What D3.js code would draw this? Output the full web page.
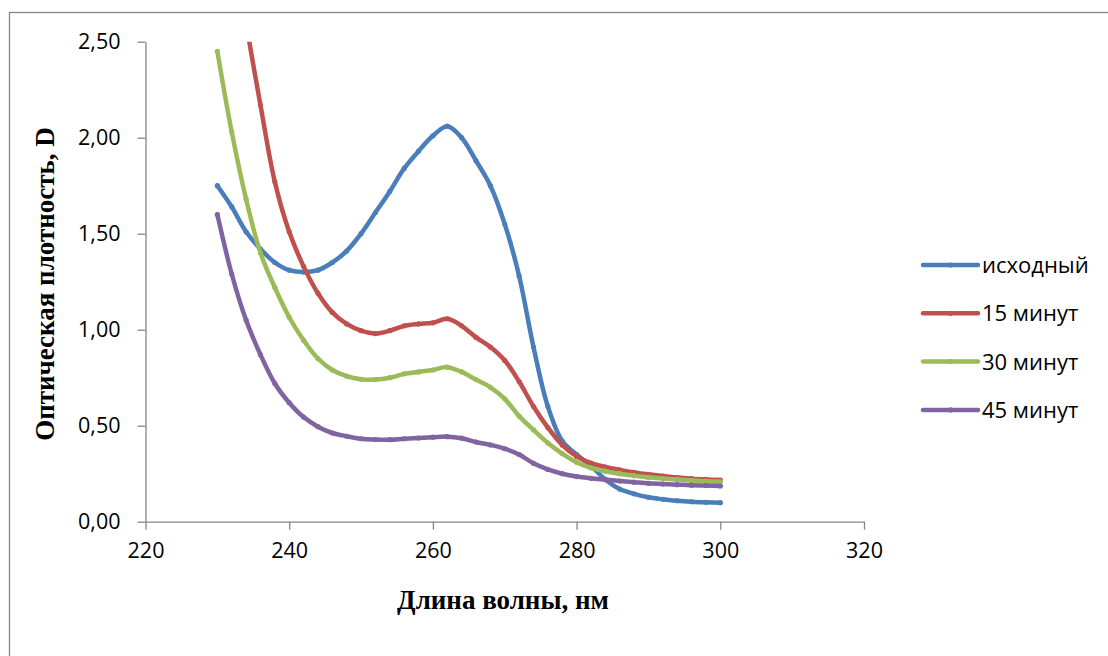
<!DOCTYPE html>
<html>
<head>
<meta charset="utf-8">
<script src="https://cdn.jsdelivr.net/npm/d3@7"></script>
<style>
  body { margin: 0; background: #fff; }
  .axis path, .axis line { stroke: #868686; stroke-width: 1.3; }
  .axis text { font-family: "Open Sans", sans-serif; font-size: 21.5px; fill: #000; }
</style>
</head>
<body>
<script>

// wavelength, nm
var wavelengths = [230, 232, 234, 236, 238, 240, 242, 244, 246, 248, 250, 252, 254, 256, 258, 260, 262, 264,
    266, 268, 270, 272, 274, 276, 278, 280, 282, 284, 286, 288, 290, 292, 294, 296, 298, 300];

var ishodny = [1.75, 1.64, 1.51, 1.42, 1.35, 1.31, 1.30, 1.31, 1.35, 1.41, 1.50, 1.61, 1.72, 1.84, 1.93, 2.01, 2.06, 2.00,
    1.88, 1.75, 1.55, 1.28, 0.91, 0.60, 0.42, 0.35, 0.29, 0.22, 0.17, 0.145, 0.127, 0.117, 0.109, 0.104, 0.101, 0.099];

var min15 = [3.70, 3.10, 2.60, 2.17, 1.77, 1.51, 1.33, 1.19, 1.09, 1.03, 0.995, 0.98, 0.995, 1.02, 1.03, 1.036, 1.057, 1.02,
    0.96, 0.91, 0.84, 0.73, 0.60, 0.49, 0.40, 0.34, 0.305, 0.285, 0.27, 0.257, 0.247, 0.238, 0.23, 0.224, 0.22, 0.217];

var min30 = [2.45, 2.03, 1.68, 1.40, 1.22, 1.065, 0.945, 0.85, 0.79, 0.758, 0.742, 0.74, 0.75, 0.77, 0.78, 0.79, 0.805, 0.78,
    0.74, 0.70, 0.64, 0.55, 0.478, 0.41, 0.355, 0.31, 0.28, 0.263, 0.25, 0.24, 0.231, 0.225, 0.22, 0.215, 0.211, 0.208];

var min45 = [1.60, 1.29, 1.05, 0.87, 0.72, 0.62, 0.545, 0.495, 0.462, 0.445, 0.432, 0.428, 0.427, 0.432, 0.436, 0.44, 0.443, 0.435,
    0.415, 0.40, 0.38, 0.35, 0.304, 0.272, 0.25, 0.235, 0.226, 0.219, 0.212, 0.206, 0.2, 0.196, 0.193, 0.19, 0.188, 0.186];

var seriesNames = ["исходный", "15 минут", "30 минут", "45 минут"];
var seriesColors = ["#4a7ebb", "#c0504d", "#9bbb59", "#8064a2"];
var seriesValues = [ishodny, min15, min30, min45];

var xTicks = [220, 240, 260, 280, 300, 320];
var yTicks = [0, 0.5, 1.0, 1.5, 2.0, 2.5];

var margin = { top: 41.7, left: 145.5 },
    width = 718.5,
    height = 480;

var svg = d3.select("body").append("svg")
    .attr("width", 1108)
    .attr("height", 656);

// chart frame
svg.append("rect")
    .attr("x", 9.5)
    .attr("y", 12.5)
    .attr("width", 1300)
    .attr("height", 900)
    .attr("fill", "none")
    .attr("stroke", "#868686")
    .attr("stroke-width", 1.3);

var g = svg.append("g")
    .attr("transform", "translate(" + margin.left + "," + margin.top + ")");

var x = d3.scaleLinear().domain([220, 320]).range([0, width]);
var y = d3.scaleLinear().domain([0, 2.5]).range([height, 0]);

var fmt = function (d) { return d3.format(".2f")(d).replace(".", ","); };

g.append("g")
    .attr("class", "axis")
    .call(d3.axisLeft(y).tickValues(yTicks).tickFormat(fmt).tickSize(8).tickSizeOuter(0).tickPadding(17));

g.append("g")
    .attr("class", "axis")
    .attr("transform", "translate(0," + height + ")")
    .call(d3.axisBottom(x).tickValues(xTicks).tickSize(8).tickSizeOuter(0).tickPadding(13));

g.append("defs").append("clipPath")
    .attr("id", "clip")
    .append("rect")
    .attr("x", -10)
    .attr("y", 0)
    .attr("width", width + 20)
    .attr("height", height + 10);

var line = d3.line()
    .x(function (d) { return x(d[0]); })
    .y(function (d) { return y(d[1]); })
    .curve(d3.curveCatmullRom);

var plot = g.append("g").attr("clip-path", "url(#clip)");

seriesValues.forEach(function (vals, i) {
    var pts = wavelengths.map(function (w, j) { return [w, vals[j]]; });
    plot.append("path")
        .attr("d", line(pts))
        .attr("fill", "none")
        .attr("stroke", seriesColors[i])
        .attr("stroke-width", 4.5)
        .attr("stroke-linecap", "round")
        .attr("stroke-linejoin", "round");
    plot.selectAll(null)
        .data(pts)
        .enter().append("circle")
        .attr("cx", function (d) { return x(d[0]); })
        .attr("cy", function (d) { return y(d[1]); })
        .attr("r", 2.6)
        .attr("fill", seriesColors[i]);
});

// legend
var legend = svg.append("g").attr("transform", "translate(923,265)");
seriesNames.forEach(function (name, i) {
    var row = legend.append("g").attr("transform", "translate(0," + (i * 48.3) + ")");
    row.append("line")
        .attr("x1", 0).attr("x2", 55)
        .attr("stroke", seriesColors[i])
        .attr("stroke-width", 4.5)
        .attr("stroke-linecap", "round");
    row.append("circle").attr("cx", 27.5).attr("r", 2.6).attr("fill", seriesColors[i]);
    row.append("text")
        .attr("x", 59)
        .attr("y", 8)
        .style("font-family", "'Open Sans', sans-serif")
        .style("font-size", "22px")
        .text(name);
});

// axis titles
svg.append("text")
    .attr("x", 503)
    .attr("y", 609)
    .attr("text-anchor", "middle")
    .style("font-family", "'Liberation Serif', serif")
    .style("font-weight", "bold")
    .style("font-size", "27px")
    .text("Длина волны, нм");

svg.append("text")
    .attr("transform", "translate(54,284) rotate(-90)")
    .attr("text-anchor", "middle")
    .style("font-family", "'Liberation Serif', serif")
    .style("font-weight", "bold")
    .style("font-size", "27px")
    .text("Оптическая плотность, D");

</script>
</body>
</html>
